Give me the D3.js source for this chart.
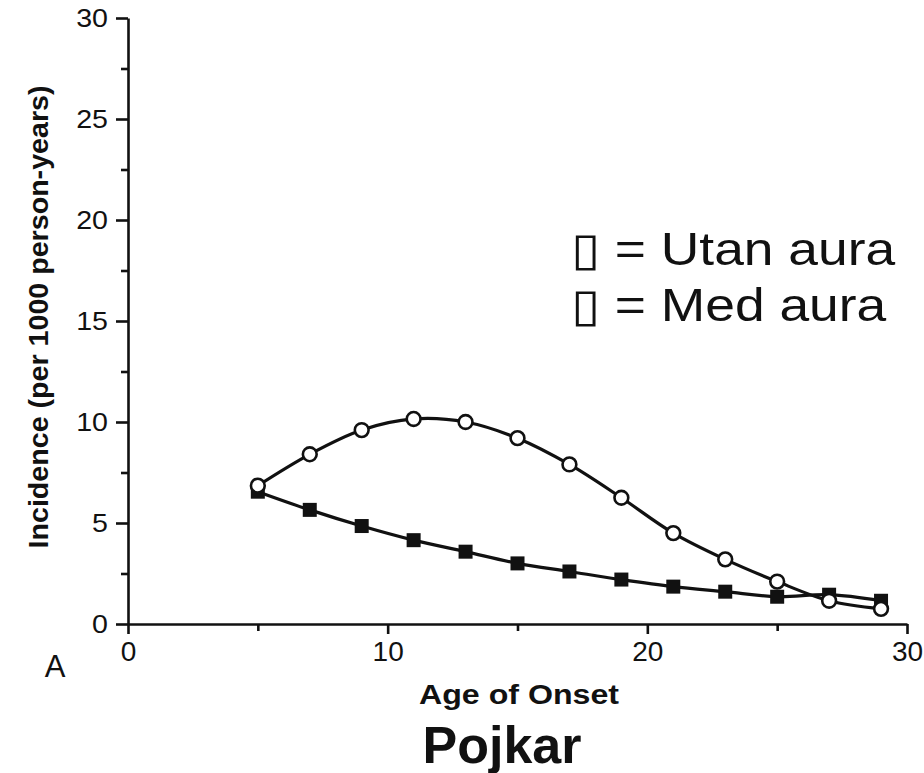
<!DOCTYPE html>
<html>
<head>
<meta charset="utf-8">
<script src="https://cdn.jsdelivr.net/npm/d3@7"></script>
<style>
  body { margin: 0; background: #fff; }
  text { font-family: "Liberation Sans", Arial, Helvetica, sans-serif; fill: #111; }
</style>
</head>
<body>
<script>
// age of onset (years) and incidence per 1000 person-years
var ages = [5, 7, 9, 11, 13, 15, 17, 19, 21, 23, 25, 27, 29];
var utanAura = [6.85, 8.4, 9.6, 10.15, 10.0, 9.2, 7.9, 6.25, 4.5, 3.2, 2.1, 1.15, 0.75];
var medAura = [6.55, 5.65, 4.85, 4.15, 3.58, 3.0, 2.6, 2.2, 1.85, 1.6, 1.35, 1.45, 1.15];

var yMajor = [0, 5, 10, 15, 20, 25, 30],
    yMinor = [2.5, 7.5, 12.5, 17.5, 22.5, 27.5],
    xMajor = [0, 10, 20, 30],
    xMinor = [5, 15, 25];

var legendLabels = ["\u25AF = Utan aura", "\u25AF = Med aura"];

var width = 924,
    height = 773;

var svg = d3.select("body")
  .append("svg")
    .attr("width", width)
    .attr("height", height);

svg.append("rect")
  .attr("width", width)
  .attr("height", height)
  .attr("fill", "#fff");

var x = d3.scaleLinear().domain([0, 30]).range([128, 907]);
var y = d3.scaleLinear().domain([0, 30]).range([624, 18]);

// the scanned type runs wider than Arial, stretch it a little
function stretch(sel, k) {
  sel.each(function() {
    var w = this.getComputedTextLength();
    d3.select(this).attr("textLength", w * k).attr("lengthAdjust", "spacingAndGlyphs");
  });
}

// y axis
var yAxis = svg.append("g")
  .attr("transform", "translate(128,0)")
  .call(d3.axisLeft(y).tickValues(yMajor).tickSize(12).tickPadding(8).tickSizeOuter(0));
svg.append("g")
  .attr("transform", "translate(128,0)")
  .call(d3.axisLeft(y).tickValues(yMinor).tickSize(7).tickFormat("").tickSizeOuter(0))
  .select(".domain").remove();

// x axis
var xAxis = svg.append("g")
  .attr("transform", "translate(0,624)")
  .call(d3.axisBottom(x).tickValues(xMajor).tickSize(10).tickPadding(7).tickSizeOuter(0));
svg.append("g")
  .attr("transform", "translate(0,624)")
  .call(d3.axisBottom(x).tickValues(xMinor).tickSize(7).tickFormat("").tickSizeOuter(0))
  .select(".domain").remove();

svg.selectAll(".domain, .tick line")
  .attr("stroke", "#111")
  .attr("stroke-width", 2.6);

yAxis.selectAll("text")
  .attr("font-size", 26)
  .style("font-size", "26px")
  .attr("fill", "#111")
  .call(stretch, 1.1);
xAxis.selectAll("text")
  .attr("font-size", 28)
  .style("font-size", "28px")
  .attr("fill", "#111");

// lines
var line = d3.line()
  .x(function(d) { return x(d[0]); })
  .y(function(d) { return y(d[1]); })
  .curve(d3.curveCatmullRom);

var utanPts = ages.map(function(a, i) { return [a, utanAura[i]]; });
var medPts = ages.map(function(a, i) { return [a, medAura[i]]; });

svg.append("path")
  .datum(medPts)
  .attr("d", line)
  .attr("fill", "none")
  .attr("stroke", "#111")
  .attr("stroke-width", 3.2);

svg.append("path")
  .datum(utanPts)
  .attr("d", line)
  .attr("fill", "none")
  .attr("stroke", "#111")
  .attr("stroke-width", 3.2);

svg.selectAll(".med")
  .data(medPts)
  .enter().append("rect")
    .attr("class", "med")
    .attr("x", function(d) { return x(d[0]) - 7; })
    .attr("y", function(d) { return y(d[1]) - 7; })
    .attr("width", 14)
    .attr("height", 14)
    .attr("fill", "#111");

svg.selectAll(".utan")
  .data(utanPts)
  .enter().append("circle")
    .attr("class", "utan")
    .attr("cx", function(d) { return x(d[0]); })
    .attr("cy", function(d) { return y(d[1]); })
    .attr("r", 6.9)
    .attr("fill", "#fff")
    .attr("stroke", "#111")
    .attr("stroke-width", 2.6);

// titles
svg.append("text")
  .attr("transform", "translate(48,317) rotate(-90)")
  .attr("text-anchor", "middle")
  .style("font-size", "28px")
  .style("font-weight", "bold")
  .attr("textLength", 463)
  .attr("lengthAdjust", "spacingAndGlyphs")
  .text("Incidence (per 1000 person-years)");

svg.append("text")
  .attr("x", 519)
  .attr("y", 704)
  .attr("text-anchor", "middle")
  .style("font-size", "27px")
  .style("font-weight", "bold")
  .attr("textLength", 200)
  .attr("lengthAdjust", "spacingAndGlyphs")
  .text("Age of Onset");

svg.append("text")
  .attr("x", 55)
  .attr("y", 677)
  .attr("text-anchor", "middle")
  .style("font-size", "31px")
  .text("A");

svg.append("text")
  .attr("x", 502)
  .attr("y", 763)
  .attr("text-anchor", "middle")
  .style("font-size", "52px")
  .style("font-weight", "bold")
  .text("Pojkar");

svg.selectAll(".legend")
  .data(legendLabels)
  .enter().append("text")
    .attr("class", "legend")
    .attr("x", 571)
    .attr("y", function(d, i) { return 265 + i * 56; })
    .style("font-size", "46px")
    .attr("fill", "#000")
    .text(function(d) { return d; })
    .call(stretch, 1.16);
</script>
</body>
</html>
